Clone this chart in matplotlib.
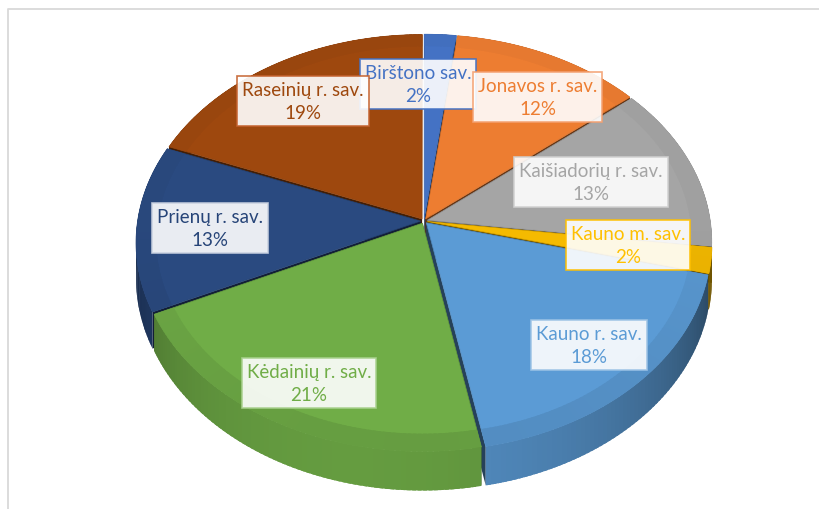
import numpy as np
import matplotlib
matplotlib.use("Agg")
import matplotlib.pyplot as plt
from matplotlib.patches import Polygon
from matplotlib.colors import to_rgb

# ---------------- data ----------------
categories = ["Birštono sav.", "Jonavos r. sav.", "Kaišiadorių r. sav.", "Kauno m. sav.",
              "Kauno r. sav.", "Kėdainių r. sav.", "Prienų r. sav.", "Raseinių r. sav."]
shares = [2, 12, 13, 2, 18, 21, 13, 19]

# ---------------- style ----------------
colors = ["#4472C4", "#ED7D31", "#A5A5A5", "#F5BA00",
          "#5B9BD5", "#70AD47", "#2A4A80", "#9E480E"]
text_colors = ["#4472C4", "#ED7D31", "#A5A5A5", "#FFC000",
               "#5B9BD5", "#70AD47", "#264478", "#9E480E"]
box_edges = ["#4472C4", "#F4A070", "#D0D0D0", "#FFC000",
             "#9DC3E6", "#A9D18E", "#C9D1E0", "#C5622E"]
# label centres (pixel layout)
label_pos = [(418, 85), (538, 98), (591, 183), (628, 246),
             (589, 346), (309, 384), (210, 229), (303, 102)]
label_z = [5, 7, 5, 5, 5, 5, 5, 6]

FONT = ["Lato", "DejaVu Sans"]

# projection parameters (pixels)
CX, CY = 424.0, 222.0
A, B, K, H = 204.0, 283.0, 0.104, 35.0
EXPLODE = 0.012
BEVEL = 0.93


def proj(u, v, z):
    d = 1 + K * v
    return CX + B * u / d, CY - A * v / d + H * z / d


def shade(c, f):
    r, g, b = to_rgb(c)
    return (min(1, r * f), min(1, g * f), min(1, b * f))


def wall_factor(t):
    return 0.46 + 0.44 * max(0.0, np.cos(t - np.radians(192)))


def ring_factor(t):
    return 0.97 - 0.06 * max(0.0, np.cos(t - np.radians(180)))


fig = plt.figure(figsize=(8.2, 5.1), dpi=100)
ax = fig.add_axes([0, 0, 1, 1])
ax.set_xlim(0, 820)
ax.set_ylim(510, 0)
ax.axis("off")

# chart frame (light grey)
ax.plot([8, 8, 830], [520, 10, 10], color="#D9D9D9", lw=1.3, solid_capstyle="butt",
        zorder=0)

vals = np.asarray(shares, dtype=float)
bounds = np.concatenate([[0], np.cumsum(vals / vals.sum())]) * 2 * np.pi

side_polys = []
top_polys = []
ring_polys = []
for i, c in enumerate(colors):
    t1, t2 = bounds[i], bounds[i + 1]
    mid = 0.5 * (t1 + t2)
    ou, ov = EXPLODE * np.sin(mid), EXPLODE * np.cos(mid)
    n = max(3, int(np.degrees(t2 - t1)) + 2)
    ts = np.linspace(t1, t2, n)
    step = ts[1] - ts[0]

    def rim(t, z, r=1.0):
        return proj(ou + r * np.sin(t), ov + r * np.cos(t), z)

    def ctr(z):
        return proj(ou, ov, z)

    for ta, tb in zip(ts[:-1], ts[1:]):
        tm = 0.5 * (ta + tb)
        tb2 = min(tb + 0.7 * step, t2)
        sub = np.linspace(ta, tb2, 4)
        verts = [rim(t, 0) for t in sub] + [rim(t, 1) for t in sub[::-1]]
        side_polys.append((np.cos(tm) + ov, verts, shade(c, wall_factor(tm))))
        rverts = [rim(t, 0) for t in sub] + [rim(t, 0, BEVEL) for t in sub[::-1]]
        ring_polys.append((rverts, shade(c, ring_factor(tm))))
    for t in (t1, t2):
        verts = [ctr(0), rim(t, 0), rim(t, 1), ctr(1)]
        side_polys.append((0.5 * np.cos(t) + ov, verts, shade(c, 0.42)))

    top = [ctr(0)] + [rim(t, 0) for t in ts]
    top_polys.append((top, c))

side_polys.sort(key=lambda p: -p[0])
for depth, verts, fc in side_polys:
    ax.add_patch(Polygon(verts, closed=True, facecolor=fc, edgecolor="none", zorder=2))

for verts, fc in top_polys:
    ax.add_patch(Polygon(verts, closed=True, facecolor=fc, edgecolor=shade(fc, 0.9),
                         lw=0.5, zorder=3))
for verts, fc in ring_polys:
    ax.add_patch(Polygon(verts, closed=True, facecolor=fc, edgecolor="none", zorder=3.5))

# data labels
for i, (cat, s) in enumerate(zip(categories, shares)):
    x, y = label_pos[i]
    ax.text(x, y, f"{cat}\n{s}%", ha="center", va="center", multialignment="center",
            fontsize=13.5, family=FONT, color=text_colors[i], linespacing=1.4,
            zorder=label_z[i],
            bbox=dict(boxstyle="square,pad=0.26", facecolor="white", alpha=0.9,
                      edgecolor=box_edges[i], linewidth=1.2))

fig.savefig("out.png", dpi=100, facecolor="white")
